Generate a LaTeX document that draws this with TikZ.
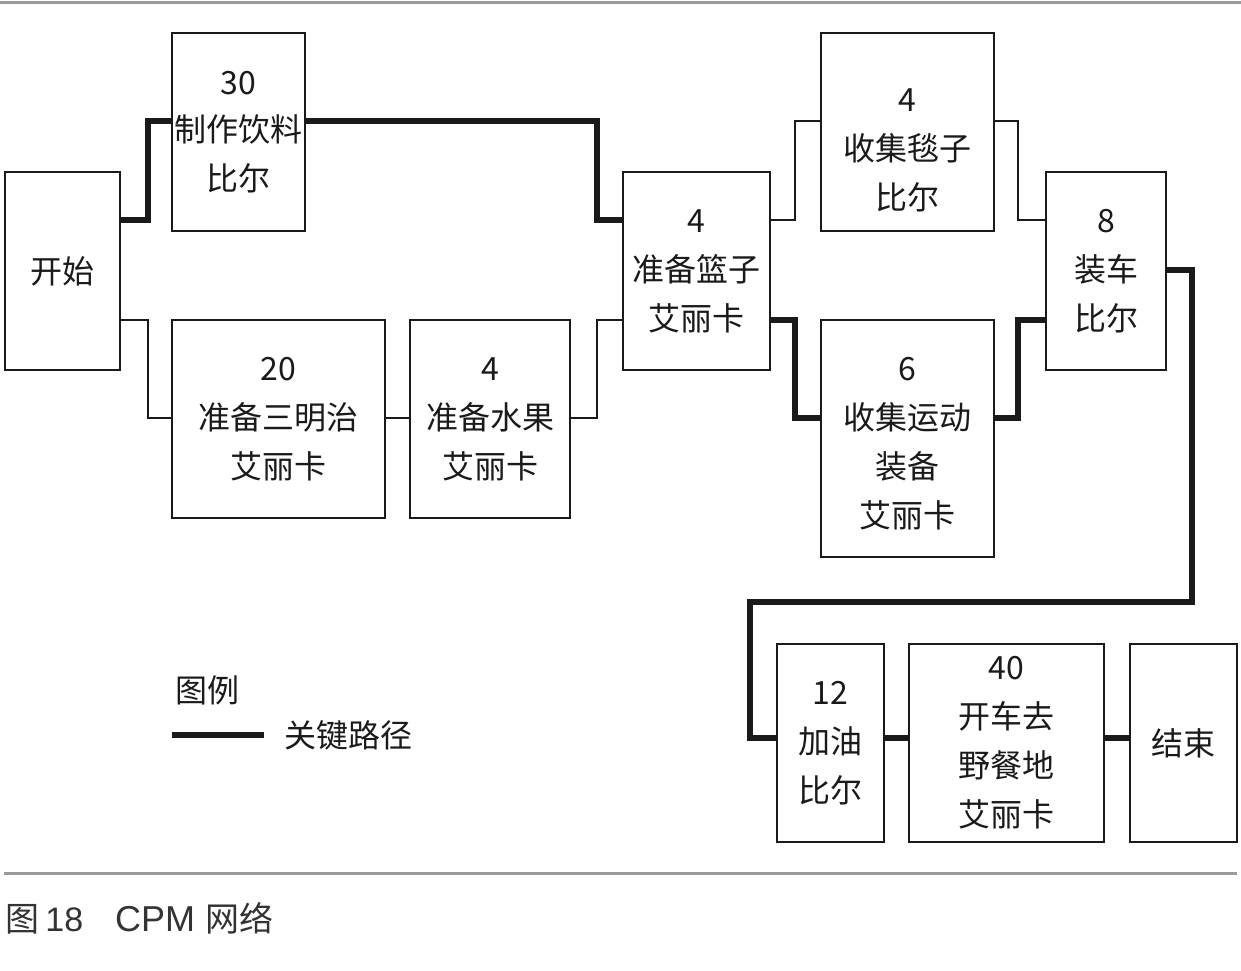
\documentclass[tikz,border=0pt]{standalone}
\usepackage{fontspec}
\setmainfont{Noto Sans CJK SC}
\newfontfamily\capfont{Liberation Sans}
\usepackage{tikz}
\usetikzlibrary{positioning}
\definecolor{ink}{HTML}{1A1A1A}
\definecolor{rulegray}{HTML}{9A9A9A}
\definecolor{capgray}{HTML}{333333}

\begin{document}
\begin{tikzpicture}[
  x=0.5pt, y=-0.5pt,
  font=\fontsize{16pt}{24.5pt}\selectfont,
  task/.style={draw=ink, line width=1.2pt, fill=white, text=ink, align=center, inner sep=0pt, minimum height=99pt},
  tasktext/.style={text=ink, align=center, inner sep=0pt},
  link/.style={draw=ink, line width=1pt},
  crit/.style={draw=ink, line width=2.6pt}
]
  \useasboundingbox (0,0) rectangle (1241,970);
  % rules above and below
  \draw[rulegray, line width=1.5pt] (0,2) -- (1241,2);
  \draw[rulegray, line width=1.5pt] (4,873) -- (1237,873);

  % tasks
  \node[task, minimum width=57.5pt] (start) at (62.5,271) {开始};
  \node[task, minimum width=66.5pt] (drink) at (238.5,132) {30\\[-1pt]制作饮料\\比尔};
  \node[task, minimum width=106.5pt] (sandw) at (278.5,419) {20\\准备三明治\\艾丽卡};
  \node[task, minimum width=80pt] (fruit) at (490,419) {4\\准备水果\\艾丽卡};
  \node[task, minimum width=73.5pt] (basket) at (696.5,271) {4\\准备篮子\\艾丽卡};
  \node[task, minimum width=86.5pt,
    label={[tasktext, yshift=-9pt]center:4\\收集毯子\\比尔}] (blanket) at (907.5,132) {};
  \node[task, minimum width=86.5pt, minimum height=118.5pt,
    label={[tasktext, yshift=-2.5pt]center:6\\收集运动\\装备\\艾丽卡}] (sports) at (907.5,438.5) {};
  \node[task, minimum width=60pt] (load) at (1106,271) {8\\装车\\比尔};
  \node[task, minimum width=53.5pt] (fuel) at (830.5,743) {12\\加油\\比尔};
  \node[task, minimum width=97.5pt] (drive) at (1006.5,743) {40\\开车去\\野餐地\\艾丽卡};
  \node[task, minimum width=53.5pt] (finish) at (1183.5,743) {结束};

  % links
  \draw[crit] (start.east |- 0,220) -| (148,121) -- (drink.west |- 0,121);
  \draw[crit] (drink.east |- 0,121) -| (597,220) -- (basket.west |- 0,220);
  \draw[link] (start.east |- 0,320) -| (148,418) -- (sandw.west |- 0,418);
  \draw[link] (sandw.east |- 0,418) -- (fruit.west |- 0,418);
  \draw[link] (fruit.east |- 0,418) -| (597,320) -- (basket.west |- 0,320);
  \draw[link] (basket.east |- 0,220) -| (795,121) -- (blanket.west |- 0,121);
  \draw[crit] (basket.east |- 0,320) -| (795,418) -- (sports.west |- 0,418);
  \draw[link] (blanket.east |- 0,121) -| (1018,220) -- (load.west |- 0,220);
  \draw[crit] (sports.east |- 0,418) -| (1018,320) -- (load.west |- 0,320);
  \draw[crit] (load.east |- 0,270) -| (1192,602) -| (750,738) -- (fuel.west |- 0,738);
  \draw[crit] (fuel.east |- 0,738) -- (drive.west |- 0,738);
  \draw[crit] (drive.east |- 0,738) -- (finish.west |- 0,738);

  % legend
  \node[anchor=west, text=ink, inner sep=0pt] (legend) at (175,690) {图例};
  \coordinate (keyA) at (172,735);
  \coordinate (keyB) at (264,735);
  \draw[crit] (keyA) -- (keyB);
  \node[anchor=west, text=ink, inner sep=0pt] (keytext) at (284,735) {关键路径};

  % caption
  \node[anchor=west, text=capgray, inner sep=0pt, font=\fontsize{17pt}{20pt}\selectfont] (caption) at (5,918)
    {图\hspace{3pt}{\capfont 18}\hspace{16pt}{\capfont\fontsize{18pt}{20pt}\selectfont CPM}\hspace{5pt}网络};
\end{tikzpicture}
\end{document}
